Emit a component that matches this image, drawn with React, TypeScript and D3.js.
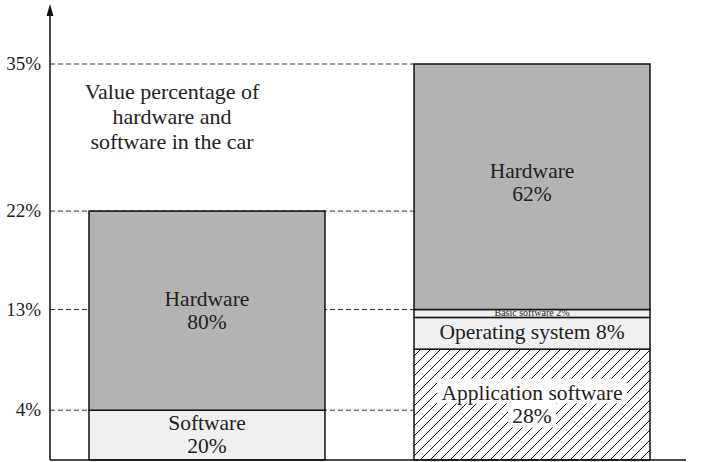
import React from "react";
import * as d3 from "d3";

const bars = ["Value", "Detail"];
const totals = [22, 35];
const leftSegments = [
  { name: "Software", pct: 20, fill: "soft" },
  { name: "Hardware", pct: 80, fill: "hard" },
];
const rightSegments = [
  { name: "Application software", pct: 28, fill: "hatch" },
  { name: "Operating system", pct: 8, fill: "soft" },
  { name: "Basic software", pct: 2, fill: "soft" },
  { name: "Hardware", pct: 62, fill: "hard" },
];
const tickValues = [35, 22, 13.3, 4.4];
const tickLabels = ["35%", "22%", "13%", "4%"];
const titleLines = ["Value percentage of", "hardware and", "software in the car"];

const W = 724;
const H = 462;
const FONT = "'Liberation Serif', 'Times New Roman', serif";
const FS = 21.5;

const fills: Record<string, string> = {
  soft: "#f0f0f0",
  hard: "#b3b3b3",
  hatch: "url(#hatch)",
};

export default function App() {
  const axisX = 50;
  const y = d3.scaleLinear().domain([0, 35]).range([460, 64]);
  const x = d3
    .scaleBand<string>()
    .domain(bars)
    .range([axisX, 689])
    .paddingInner(0.274)
    .paddingOuter(0.12);
  const bw = x.bandwidth();

  const stackIt = (segs: typeof leftSegments, total: number) => {
    let acc = 0;
    return segs.map((s) => {
      const v0 = acc;
      acc += (s.pct / 100) * total;
      return { ...s, v0, v1: acc };
    });
  };
  const stacks = [stackIt(leftSegments, totals[0]), stackIt(rightSegments, totals[1])];
  const rightX = x(bars[1])!;

  const label = (s: any, bx: number, i: number) => {
    const cx = bx + bw / 2;
    const cy = (y(s.v0) + y(s.v1)) / 2;
    if (s.name === "Basic software") {
      return (
        <text key={"t" + i} x={cx} y={cy + 3} fontSize={10} textAnchor="middle">
          {`${s.name} ${s.pct}%`}
        </text>
      );
    }
    if (s.name === "Operating system") {
      return (
        <text key={"t" + i} x={cx} y={cy + 6} fontSize={FS} textAnchor="middle">
          {`${s.name} ${s.pct}%`}
        </text>
      );
    }
    const lines = [s.name, `${s.pct}%`];
    const shift = s.name === "Hardware" && bx === rightX ? -4 : 0;
    return (
      <g key={"t" + i}>
        {s.fill === "hatch" &&
          lines.map((l, j) => {
            const w = j === 0 ? 190 : 48;
            return (
              <rect
                key={j}
                x={cx - w / 2}
                y={cy + shift - 26 + j * 24}
                width={w}
                height={25}
                fill="#fff"
              />
            );
          })}
        {lines.map((l, j) => (
          <text
            key={j}
            x={cx}
            y={cy + shift - 5 + j * 23}
            fontSize={FS}
            textAnchor="middle"
          >
            {l}
          </text>
        ))}
      </g>
    );
  };

  return (
    <svg
      width={W}
      height={H}
      style={{ position: "absolute", left: 0, top: 0, background: "#fff" }}
      fontFamily={FONT}
      fill="#222"
    >
      <defs>
        <pattern id="hatch" patternUnits="userSpaceOnUse" width={10} height={10}>
          <rect width={10} height={10} fill="#fff" />
          <path d="M-2,12 L12,-2 M-2,2 L2,-2 M8,12 L12,8" stroke="#111" strokeWidth={1} />
        </pattern>
      </defs>

      {tickValues.map((v, i) => (
        <g key={v}>
          <line
            x1={axisX}
            x2={rightX}
            y1={y(v)}
            y2={y(v)}
            stroke="#333"
            strokeDasharray="5,3"
            strokeWidth={1}
          />
          <text x={41} y={y(v) + 6} fontSize={19} textAnchor="end">
            {tickLabels[i]}
          </text>
        </g>
      ))}

      {stacks.map((st, bi) => {
        const bx = x(bars[bi])!;
        return (
          <g key={bi}>
            {st.map((s, i) => (
              <rect
                key={i}
                x={bx}
                y={y(s.v1)}
                width={bw}
                height={y(s.v0) - y(s.v1)}
                fill={fills[s.fill]}
                stroke="#111"
                strokeWidth={1.5}
              />
            ))}
            {st.map((s, i) => label(s, bx, i))}
          </g>
        );
      })}

      {titleLines.map((t, i) => (
        <text key={i} x={172} y={99 + i * 25} fontSize={22} textAnchor="middle">
          {t}
        </text>
      ))}

      <line x1={axisX} x2={686} y1={460} y2={460} stroke="#111" strokeWidth={1.5} />
      <line x1={axisX} x2={axisX} y1={460} y2={12} stroke="#111" strokeWidth={1.5} />
      <path d={`M${axisX - 3.5},16 L${axisX},4 L${axisX + 3.5},16 Z`} fill="#111" />
    </svg>
  );
}
